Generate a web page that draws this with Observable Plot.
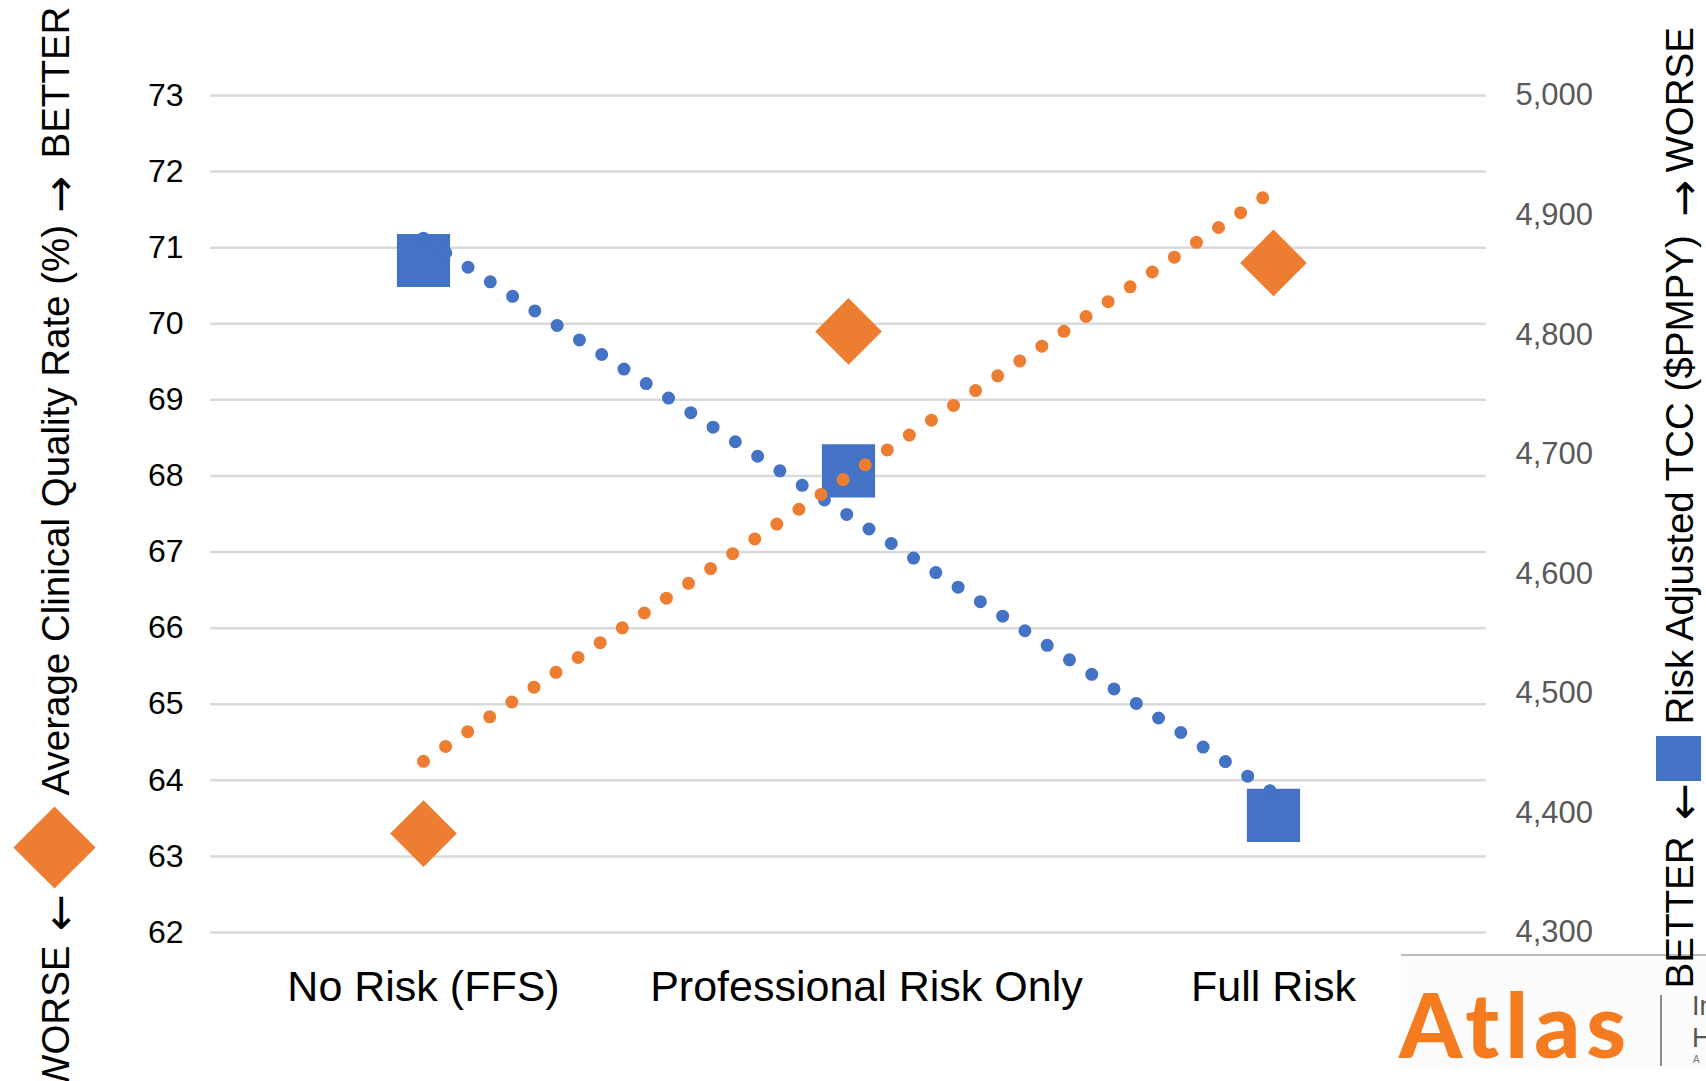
<!DOCTYPE html>
<html>
<head>
<meta charset="utf-8">
<script src="https://cdn.jsdelivr.net/npm/d3@7"></script>
<script src="https://cdn.jsdelivr.net/npm/@observablehq/plot@0.6"></script>
<style>
  html, body { margin: 0; padding: 0; background: #ffffff; }
  #chart { width: 1706px; height: 1081px; overflow: hidden; }
  #chart svg { display: block; }
</style>
</head>
<body>
<div id="chart"></div>
<script>
// Risk arrangement categories
const categories = ["No Risk (FFS)", "Professional Risk Only", "Full Risk"];
// Average clinical quality rate (%) — left axis
const qualityRate = [63.3, 69.9, 70.8];
// Risk adjusted total cost of care ($PMPY) — right axis
const riskAdjustedTCC = [4862, 4686, 4398];
// Axis ticks
const qualityTicks = [62, 63, 64, 65, 66, 67, 68, 69, 70, 71, 72, 73];
const tccTicks = [4300, 4400, 4500, 4600, 4700, 4800, 4900, 5000];

const ORANGE = "#ED7D31";
const BLUE = "#4472C4";
const FONT = "'Liberation Sans', Arial, Helvetica, sans-serif";
const ARROW_FONT = "'DejaVu Sans', sans-serif";

// The cost series shares the plot's single y scale through a linear mapping
const qDomain = [qualityTicks[0], qualityTicks[qualityTicks.length - 1]];
const tDomain = [tccTicks[0], tccTicks[tccTicks.length - 1]];
const tccToQ = v => qDomain[0] + (v - tDomain[0]) * (qDomain[1] - qDomain[0]) / (tDomain[1] - tDomain[0]);
const qToTcc = v => tDomain[0] + (v - qDomain[0]) * (tDomain[1] - tDomain[0]) / (qDomain[1] - qDomain[0]);

const rows = categories.map((c, i) => ({
  category: c,
  quality: qualityRate[i],
  tccOnQ: tccToQ(riskAdjustedTCC[i])
}));

// Least-squares linear trend over the category index, evaluated at first and last category
function trend(values) {
  const xs = values.map((_, i) => i + 1);
  const mx = d3.mean(xs), my = d3.mean(values);
  const slope = d3.sum(xs, (x, i) => (x - mx) * (values[i] - my)) / d3.sum(xs, x => (x - mx) ** 2);
  return [0, values.length - 1].map(i => ({ category: categories[i], value: my + slope * (xs[i] - mx) }));
}
const qualityTrend = trend(qualityRate);
const tccTrend = trend(riskAdjustedTCC).map(d => ({ category: d.category, value: tccToQ(d.value) }));

const W = 1706, H = 1081;
const M = { left: 210, right: 220, top: 95, bottom: 149 };
const frameRight = W - M.right;

const dotted = { strokeWidth: 13, strokeLinecap: "round", strokeDasharray: "0 26.6" };

// A vertical (rotated) title piece placed in page pixels relative to the frame corner
function vtext(str, corner, px, py, anchor, opts = {}) {
  const ox = corner === "left" ? M.left : frameRight;
  return Plot.text([str], {
    text: d => d, frameAnchor: corner === "left" ? "top-left" : "top-right",
    dx: px - ox, dy: py - M.top, rotate: -90, textAnchor: anchor,
    fontSize: 38.5, fill: "#000", ...opts
  });
}
function vmarker(symbol, r, fill, corner, px, py) {
  const ox = corner === "left" ? M.left : frameRight;
  return Plot.dot([0], {
    frameAnchor: corner === "left" ? "top-left" : "top-right",
    dx: px - ox, dy: py - M.top, symbol, r, fill
  });
}
const arrowStyle = { fontFamily: ARROW_FONT, fontSize: 44 };

const LX = 41, RX = 1665;   // text columns of the two axis titles

const plot = Plot.plot({
  width: W,
  height: H,
  marginLeft: M.left,
  marginRight: M.right,
  marginTop: M.top,
  marginBottom: M.bottom,
  style: { fontFamily: FONT, background: "transparent", color: "#000", overflow: "visible" },
  x: { type: "point", domain: categories, padding: 0.5 },
  y: { domain: qDomain },
  marks: [
    Plot.ruleY(qualityTicks, { stroke: "#D9D9D9", strokeWidth: 2.5 }),
    Plot.axisY({
      anchor: "left", ticks: qualityTicks, tickSize: 0, tickPadding: 27,
      fontSize: 32, fill: "#000", label: null
    }),
    Plot.axisY({
      anchor: "right", ticks: tccTicks.map(tccToQ), tickSize: 0, tickPadding: 29,
      tickFormat: v => d3.format(",")(Math.round(qToTcc(v))),
      fontSize: 31, fill: "#595959", label: null
    }),
    Plot.axisX({
      tickSize: 0, tickPadding: 38, fontSize: 43, fill: "#000", label: null,
      tickFormat: d => d === categories[1] ? "\u00a0\u00a0\u00a0" + d : d
    }),

    Plot.dot(rows, { x: "category", y: "quality", symbol: "diamond2", r: 30, fill: ORANGE }),
    Plot.dot(rows, { x: "category", y: "tccOnQ", symbol: "square", r: 30, fill: BLUE }),

    Plot.line(tccTrend, { x: "category", y: "value", stroke: BLUE, ...dotted }),
    Plot.line(qualityTrend, { x: "category", y: "value", stroke: ORANGE, ...dotted }),

    // Left axis title: WORSE ← ◆ Average Clinical Quality Rate (%) → BETTER
    vtext("WORSE", "left", LX, 945, "end"),
    vtext("\u2190", "left", LX + 2, 912, "middle", arrowStyle),
    vmarker("diamond2", 37, ORANGE, "left", 54, 847),
    vtext("Average Clinical Quality Rate (%)", "left", LX, 795, "start"),
    vtext("\u2192", "left", LX + 2, 194, "middle", arrowStyle),
    vtext("BETTER", "left", LX, 158, "start"),

    // Right axis title: BETTER ← ■ Risk Adjusted TCC ($PMPY) → WORSE
    vtext("BETTER", "right", RX, 836, "end"),
    vtext("\u2190", "right", RX + 2, 801, "middle", arrowStyle),
    vmarker("square", 25.4, BLUE, "right", 1678, 758),
    vtext("Risk Adjusted TCC ($PMPY)", "right", RX, 724, "start"),
    vtext("\u2192", "right", RX + 2, 198, "middle", arrowStyle),
    vtext("WORSE", "right", RX, 172, "start")
  ]
});

// Organisation logo in the lower-right corner, kept beneath the chart marks
const logo = d3.select(plot).insert("g", ":first-child")
  .attr("class", "logo").attr("text-anchor", "start");
logo.append("rect").attr("x", 1401).attr("y", 955).attr("width", 305).attr("height", 112).attr("fill", "#fcfcfc");
logo.append("line").attr("x1", 1401).attr("x2", 1706).attr("y1", 955).attr("y2", 955)
  .attr("stroke", "#bdbdbd").attr("stroke-width", 2);
logo.append("text").attr("x", 1399).attr("y", 1058).text("Atlas")
  .attr("font-family", "'Lato', 'Liberation Sans', sans-serif").attr("font-weight", 900)
  .attr("font-size", 90).attr("letter-spacing", 6).attr("fill", "#F47B20");
logo.append("line").attr("x1", 1661).attr("x2", 1661).attr("y1", 995).attr("y2", 1066)
  .attr("stroke", "#8c8c8c").attr("stroke-width", 2);
logo.append("text").attr("x", 1692).attr("y", 1015).text("In")
  .attr("font-family", FONT).attr("font-size", 27).attr("fill", "#555");
logo.append("text").attr("x", 1692).attr("y", 1047).text("H")
  .attr("font-family", FONT).attr("font-size", 27).attr("fill", "#555");
logo.append("text").attr("x", 1693).attr("y", 1063).text("A")
  .attr("font-family", FONT).attr("font-size", 10).attr("fill", "#777");

document.getElementById("chart").appendChild(plot);
</script>
</body>
</html>
